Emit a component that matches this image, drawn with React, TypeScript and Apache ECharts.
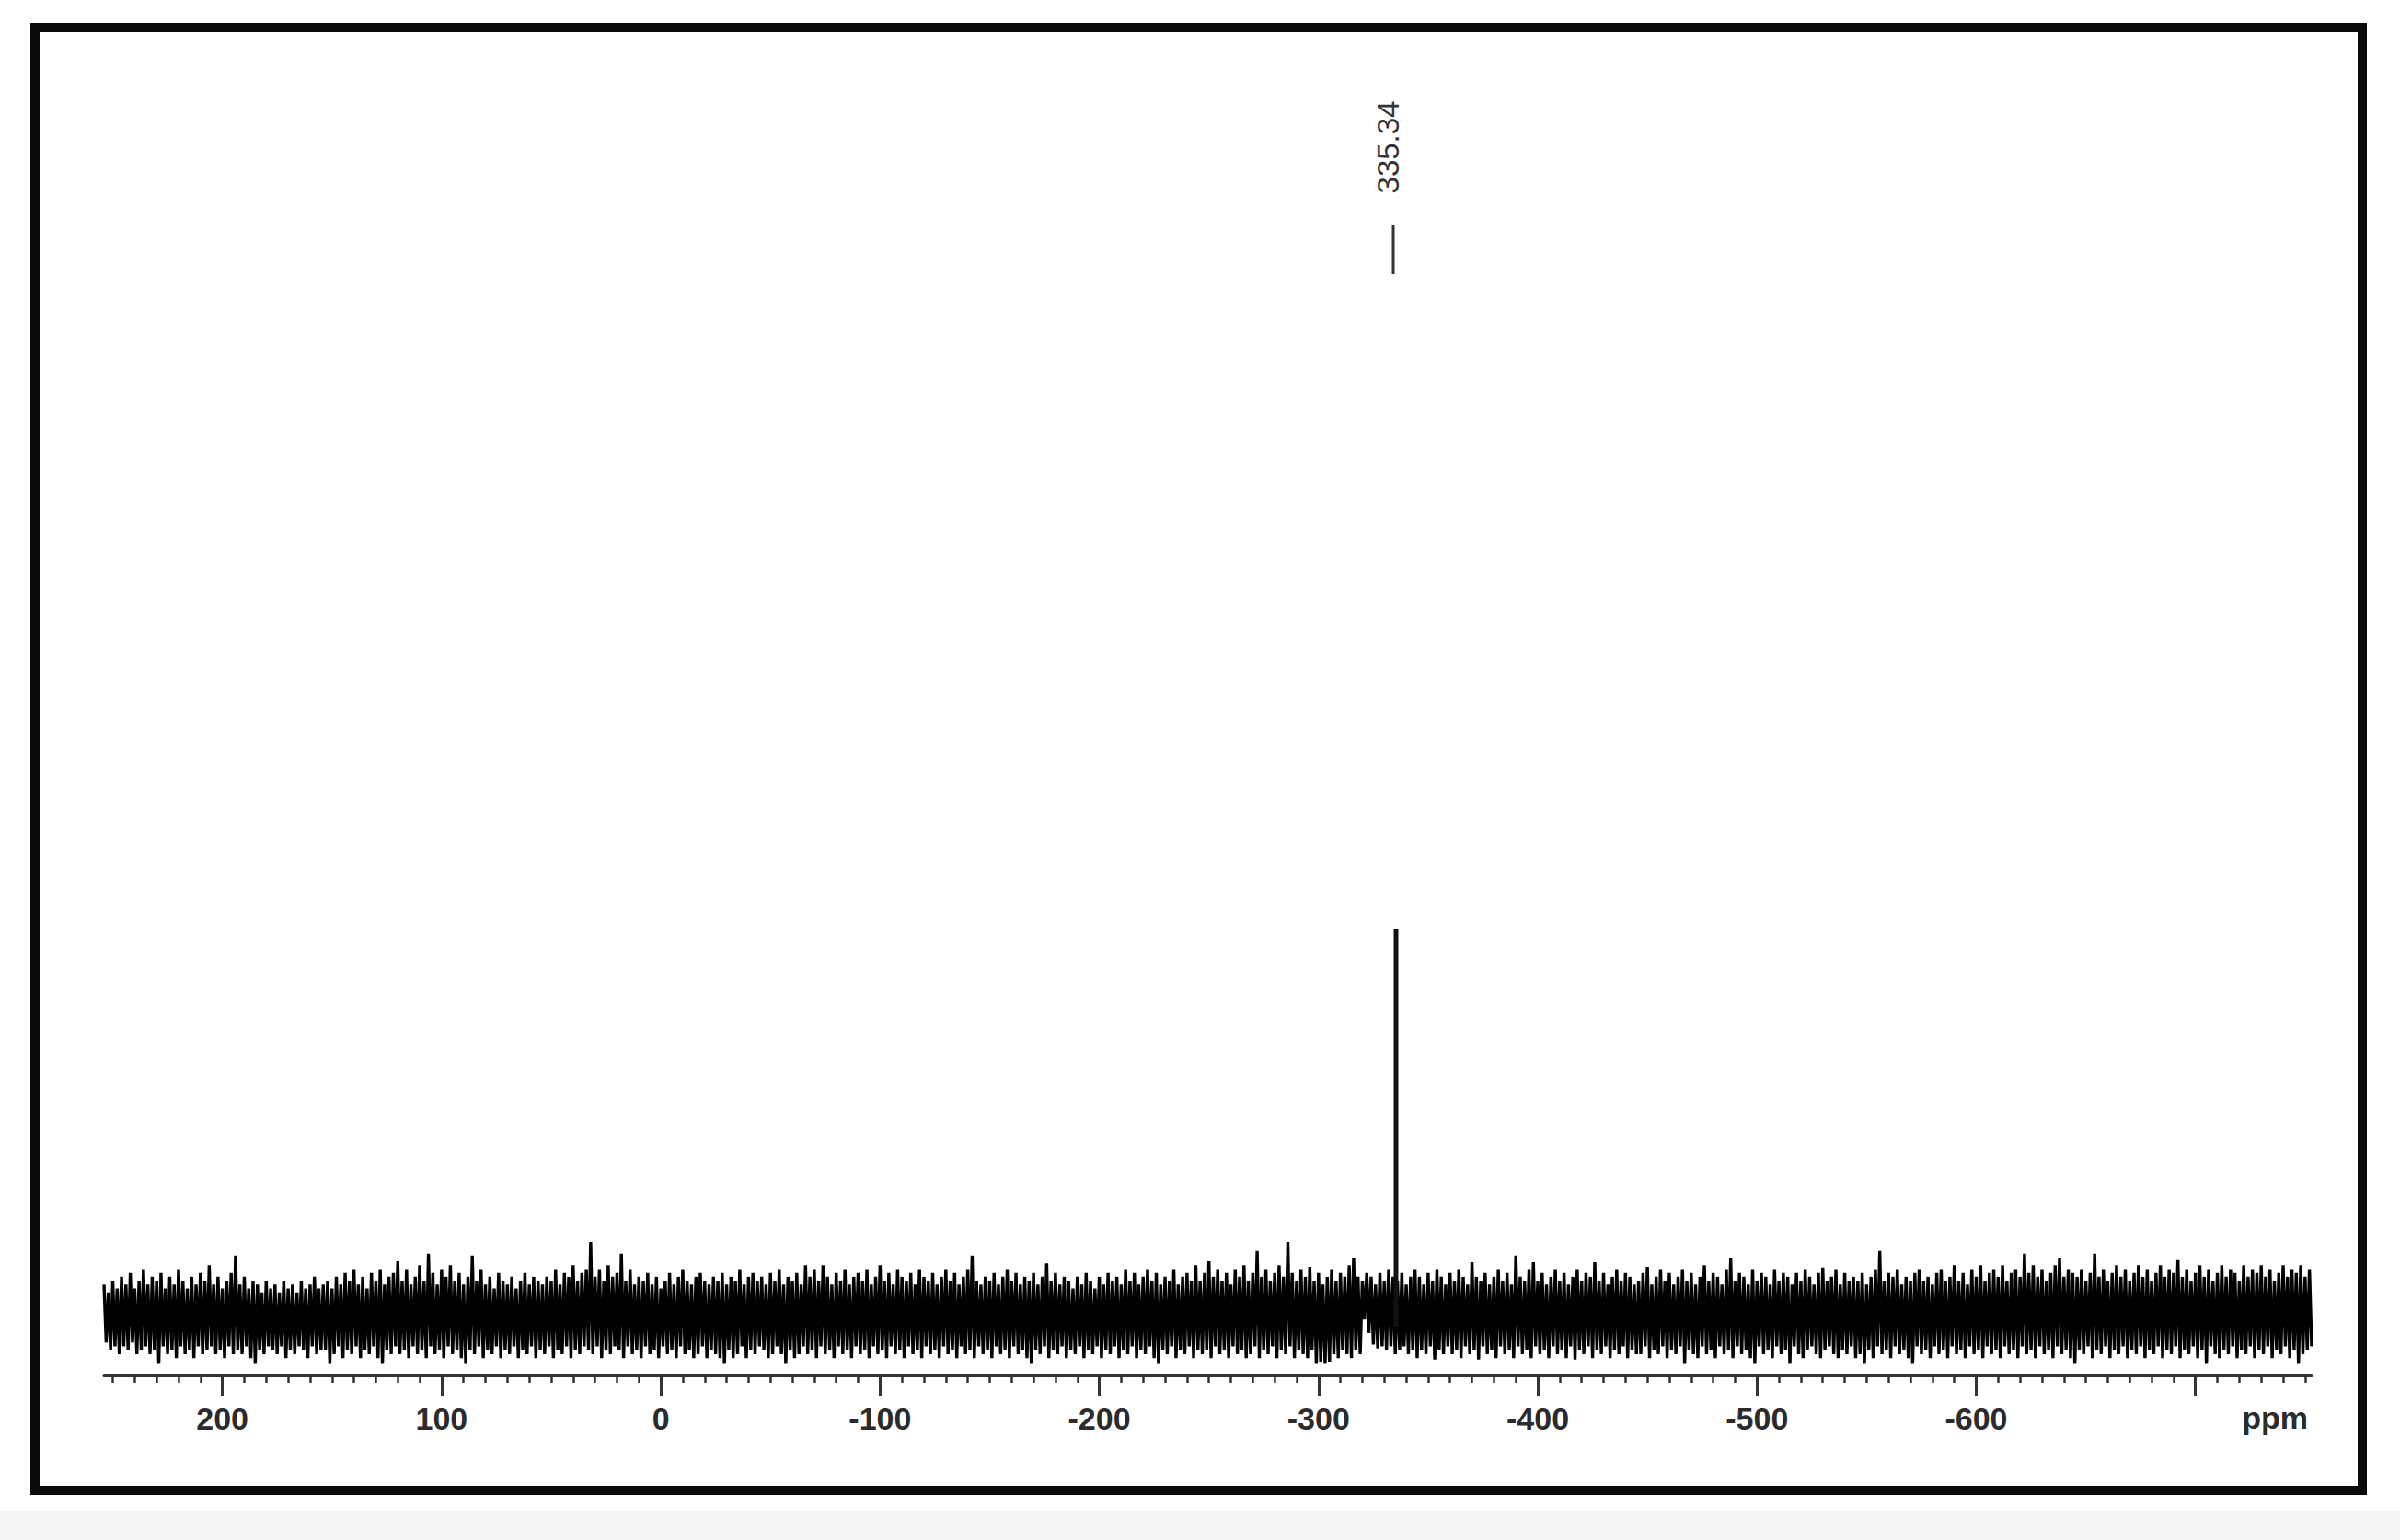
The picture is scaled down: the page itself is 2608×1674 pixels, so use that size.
import React, { useEffect, useRef } from "react";
import * as echarts from "echarts";

// ppm axis range of the spectrum (first and last sampled point, 1 ppm step)
const ppmStart = 254;
const ppmEnd = -753;

// axis tick values / labels
const majorTicks = [200, 100, 0, -100, -200, -300, -400, -500, -600, -700];
const tickLabels = [200, 100, 0, -100, -200, -300, -400, -500, -600];
const axisUnit = "ppm";

// the single resonance
const peakPpm = -335.34;
const peakHeight = 100;
const peakLabel = "335.34";

// baseline noise (values per 1 ppm, 254 -> -753)
const noise254to155 = [
  8, -7, 6, -9, 9, -8, 7, -10, 10, -8, 8, -9, 11, -7, 7, -10, 9, -9, 12, -8,
  8, -10, 10, -9, 9, -12.5, 11, -8, 7, -10, 10, -9, 8, -11, 12, -8, 9, -10, 7, -9,
  10, -11, 8, -8, 11, -10, 9, -9, 13, -8, 8, -10, 10, -9, 7, -11, 9, -8, 11, -10,
  15.5, -9, 8, -10, 10, -8, 7, -11, 9, -12.5, 8, -9, 6, -10, 9, -8, 7, -9, 8, -10,
  6, -8, 9, -11, 7, -9, 8, -10, 6, -8, 9, -9, 7, -11, 8, -8, 10, -10, 7, -9,
];
const noise154to55 = [
  8, -9, 9, -12.5, 7, -10, 10, -8, 8, -11, 11, -9, 9, -10, 12, -8, 8, -11, 10, -9,
  7, -10, 11, -8, 9, -11, 12, -12.5, 8, -9, 10, -10, 11, -8, 14, -10, 9, -9, 12, -11,
  8, -8, 10, -10, 13, -9, 9, -11, 16, -8, 11, -10, 8, -9, 12, -11, 10, -8, 13, -10,
  9, -9, 11, -11, 8, -12.5, 10, -9, 15.5, -10, 9, -8, 12, -11, 8, -9, 10, -10, 7, -8,
  11, -11, 9, -9, 8, -10, 10, -8, 7, -11, 9, -9, 11, -10, 8, -8, 10, -11, 9, -9,
];
const noise54toM45 = [
  8, -10, 10, -8, 9, -11, 12, -9, 8, -10, 11, -8, 10, -11, 13, -9, 9, -10, 11, -8,
  12, -9, 19, -10, 10, -8, 12, -11, 9, -9, 13, -10, 10, -8, 11, -9, 16, -11, 9, -8,
  12, -10, 8, -9, 10, -11, 9, -8, 11, -10, 8, -9, 10, -11, 7, -8, 9, -10, 11, -9,
  8, -11, 10, -8, 12, -10, 9, -9, 8, -11, 10, -10, 11, -8, 9, -11, 8, -9, 10, -10,
  9, -11, 11, -12.5, 8, -9, 10, -11, 9, -10, 12, -8, 8, -11, 10, -9, 11, -10, 9, -8,
];
const noiseM46toM145 = [
  10, -9, 8, -11, 11, -10, 9, -8, 12, -10, 8, -12.5, 10, -9, 9, -11, 11, -10, 8, -8,
  13, -10, 10, -9, 12, -11, 9, -8, 13, -10, 10, -9, 8, -11, 11, -8, 9, -10, 12, -9,
  8, -11, 10, -8, 11, -10, 9, -9, 12, -11, 8, -8, 10, -10, 13, -9, 9, -11, 11, -8,
  8, -10, 12, -9, 10, -11, 9, -8, 11, -10, 8, -9, 12, -11, 10, -8, 9, -10, 11, -9,
  8, -11, 10, -8, 12, -10, 9, -9, 11, -11, 8, -8, 10, -10, 12, -9, 15.5, -11, 9, -8,
];
const noiseM146toM245 = [
  8, -10, 10, -9, 9, -11, 11, -8, 8, -10, 10, -9, 12, -11, 9, -8, 11, -10, 8, -9,
  10, -11, 9, -12.5, 11, -9, 8, -10, 10, -8, 13.5, -11, 9, -9, 11, -10, 8, -8, 10, -11,
  9, -9, 7, -10, 10, -8, 8, -11, 11, -9, 9, -10, 7, -8, 10, -11, 8, -9, 11, -10,
  9, -8, 10, -11, 8, -9, 12, -10, 9, -8, 11, -11, 8, -9, 10, -10, 12, -8, 9, -11,
  11, -12.5, 8, -9, 10, -10, 9, -8, 12, -11, 8, -9, 10, -10, 11, -8, 9, -11, 13, -9,
];
const noiseM246toM345 = [
  9, -10, 11, -9, 14, -11, 10, -8, 12, -10, 9, -9, 11, -11, 8, -8, 12, -10, 10, -9,
  13, -11, 9, -10, 11, -8, 16.7, -11, 10, -9, 12, -10, 9, -8, 11, -11, 13, -9, 10, -10,
  19, -8, 11, -11, 9, -9, 12, -10, 10, -11, 12.6, -9, 9, -12.5, 11, -12, 8, -12.5, 10, -12,
  12, -10, 9, -11, 11, -9, 10, -10, 13, -11, 14.8, -9, 10, -10, 9, -1, 11, -4.5, 10, -7.5,
  8, -8.5, 11, -8, 9, -9, 12, -8, 10, -10, 9, -9, 11, -8, 8, -10, 10, -9, 12, -11,
];
const noiseM346toM445 = [
  10, -9, 8, -10, 11, -8, 9, -11.4, 12, -9, 10, -10, 8, -8, 11, -10, 9, -9, 12, -11,
  10, -8, 8, -10, 13.8, -9, 10, -11.4, 9, -8, 11, -10, 8, -9, 10, -11, 12, -8, 9, -10,
  11, -9, 8, -11, 15.5, -8, 10, -10, 9, -9, 12, -11, 13.8, -8, 9, -10, 11, -9, 8, -11,
  10, -8, 12, -10, 9, -9, 11, -11, 8, -8, 10, -11.4, 12, -9, 9, -10, 11, -8, 10, -11,
  13.8, -9, 9, -10, 11, -8, 8, -11, 10, -9, 12, -10, 9, -8, 11, -11, 10, -9, 8, -10,
];
const noiseM446toM545 = [
  9, -10, 11, -8, 12.6, -11, 8, -9, 10, -10, 12, -8, 9, -11, 11, -9, 8, -10, 10, -8,
  12, -12.5, 9, -9, 11, -10, 8, -11, 10, -8, 13, -10, 9, -9, 11, -11, 10, -8, 8, -10,
  12, -9, 14.8, -11, 9, -8, 11, -10, 10, -9, 8, -11, 12, -12.5, 9, -8, 11, -10, 10, -9,
  8, -11, 12, -8, 9, -10, 11, -9, 10, -12.5, 8, -8, 11, -10, 9, -11, 12, -9, 10, -8,
  8, -10, 11, -11, 12.4, -9, 9, -8, 10, -10, 12, -11, 8, -9, 11, -10, 9, -8, 10, -11,
];
const noiseM546toM645 = [
  9, -10, 11, -12.5, 8, -9, 10, -11, 12, -8, 16.7, -10, 9, -9, 11, -11, 10, -8, 12, -10,
  8, -9, 10, -11, 9, -12.5, 11, -8, 12, -10, 9, -9, 10, -11, 8, -8, 11, -10, 12, -9,
  9, -11, 10, -8, 13, -10, 9, -9, 11, -11, 8, -8, 12, -10, 10, -9, 13, -11, 9, -8,
  11, -10, 12, -9, 10, -11, 13, -8, 9, -10, 11, -9, 12, -11, 10, -8, 16, -10, 11, -9,
  13, -11, 10, -8, 12, -10, 9, -9, 11, -11, 13, -8, 14.8, -10, 10, -9, 12, -11, 11, -12.5,
];
const noiseM646toM753 = [
  10, -9, 12, -10, 9, -8, 11, -11, 16, -9, 10, -10, 12, -8, 9, -11, 11, -9, 13, -10,
  10, -8, 12, -11, 9, -9, 11, -10, 13, -8, 10, -11, 12, -9, 9, -10, 11, -8, 13, -11,
  10, -9, 12, -10, 11, -8, 14.3, -11, 10, -9, 12, -10, 9, -8, 11, -11, 13, -9, 10, -12.5,
  12, -8, 9, -10, 11, -11, 13, -9, 10, -10, 12, -8, 11, -11, 9, -9, 13, -10, 10, -8,
  12, -11, 11, -9, 13, -10, 10, -8, 12, -11, 9, -9, 11, -10, 13, -8, 10, -11, 12, -9,
  11, -12.5, 13, -10, 10, -9, 12, -8,
];

const noise = [
  ...noise254to155,
  ...noise154to55,
  ...noise54toM45,
  ...noiseM46toM145,
  ...noiseM146toM245,
  ...noiseM246toM345,
  ...noiseM346toM445,
  ...noiseM446toM545,
  ...noiseM546toM645,
  ...noiseM646toM753,
];

// minor ticks every 10 ppm
const minorTicks: number[] = [];
for (let v = 250; v >= -750; v -= 10) minorTicks.push(v);

const FONT = '"Liberation Sans", Arial, Helvetica, sans-serif';

export default function App() {
  const ref = useRef<HTMLDivElement>(null);

  useEffect(() => {
    if (!ref.current) return;
    const chart = echarts.init(ref.current, null, { renderer: "svg" });

    const spectrum = noise.map((v, i) => [ppmStart - i, v]);

    const option: any = {
      animation: false,
      backgroundColor: "#ffffff",
      grid: { left: 113, right: 96, top: 1010, bottom: 179, containLabel: false },
      xAxis: [
        {
          type: "value",
          min: ppmEnd,
          max: ppmStart,
          inverse: true,
          position: "bottom",
          axisLine: { show: true, onZero: false, lineStyle: { color: "#333333", width: 3 } },
          axisTick: {
            show: true,
            customValues: majorTicks,
            length: 22,
            lineStyle: { color: "#333333", width: 3 },
          },
          axisLabel: {
            show: true,
            customValues: tickLabels,
            margin: 30,
            fontSize: 34,
            fontWeight: "bold",
            color: "#2b2b2b",
            fontFamily: FONT,
          },
          splitLine: { show: false },
        },
        {
          type: "value",
          min: ppmEnd,
          max: ppmStart,
          inverse: true,
          position: "bottom",
          axisLine: { show: false, onZero: false },
          axisTick: {
            show: true,
            customValues: minorTicks,
            length: 8,
            lineStyle: { color: "#333333", width: 2.5 },
          },
          axisLabel: { show: false },
          splitLine: { show: false },
        },
      ],
      yAxis: { type: "value", min: -15.5, max: 100, show: false, splitLine: { show: false } },
      series: [
        {
          type: "line",
          name: "spectrum",
          xAxisIndex: 0,
          data: spectrum,
          symbol: "none",
          showSymbol: false,
          silent: true,
          lineStyle: { color: "#000000", width: 3.4, join: "bevel" },
          z: 2,
        },
        {
          type: "line",
          name: "peak",
          xAxisIndex: 0,
          data: [
            [peakPpm, -3],
            [peakPpm, peakHeight],
          ],
          symbol: "none",
          showSymbol: false,
          silent: true,
          lineStyle: { color: "#111111", width: 5 },
          z: 3,
        },
      ],
      graphic: [
        {
          id: "bottomStrip",
          type: "rect",
          shape: { x: 0, y: 1642, width: 2608, height: 32 },
          style: { fill: "#f5f5f5" },
          z: 0,
        },
        {
          id: "frame",
          type: "rect",
          shape: { x: 38, y: 30, width: 2529, height: 1590 },
          style: { fill: "none", stroke: "#0a0a0a", lineWidth: 10 },
          z: 10,
        },
        {
          id: "unit",
          type: "text",
          x: 2508,
          y: 1541,
          style: {
            text: axisUnit,
            font: `bold 34px ${FONT}`,
            fill: "#2b2b2b",
            align: "right",
            verticalAlign: "middle",
          },
          z: 10,
        },
      ],
    };

    chart.setOption(option);

    const px = chart.convertToPixel({ xAxisIndex: 0 }, peakPpm) as number;
    chart.setOption({
      graphic: [
        {
          id: "peakText",
          type: "text",
          x: px - 8,
          y: 160,
          rotation: Math.PI / 2,
          style: {
            text: peakLabel,
            font: `33px ${FONT}`,
            fill: "#333333",
            align: "center",
            verticalAlign: "middle",
          },
          z: 10,
        },
        {
          id: "peakTick",
          type: "line",
          shape: { x1: px - 3, y1: 245, x2: px - 3, y2: 298 },
          style: { stroke: "#333333", lineWidth: 3 },
          z: 10,
        },
      ],
    });

    return () => chart.dispose();
  }, []);

  return (
    <div
      ref={ref}
      style={{ position: "fixed", left: 0, top: 0, width: 2608, height: 1674 }}
    />
  );
}
